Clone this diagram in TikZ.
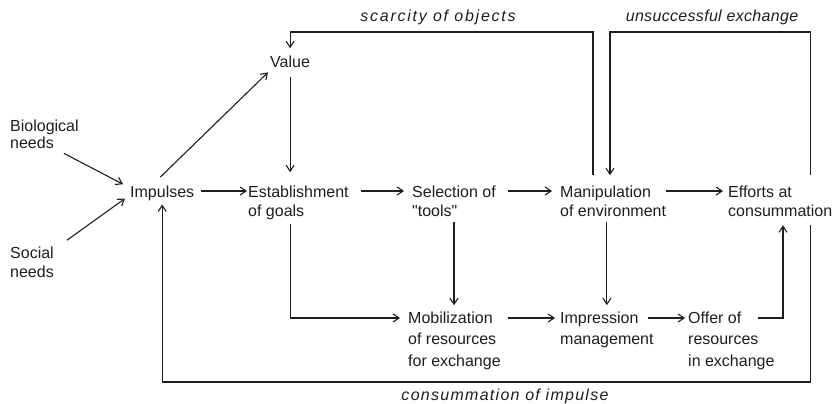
\documentclass[tikz,border=0pt]{standalone}
\usepackage{fontspec}
\setmainfont{Liberation Sans}[Ligatures=TeXOff]
\usetikzlibrary{arrows.meta,calc}
\definecolor{ink}{HTML}{1E1E1E}
\begin{document}
\begin{tikzpicture}[x=1pt,y=-1pt,
  txt/.style={inner sep=0pt, anchor=base west, align=left, text=ink,
    font=\fontsize{16}{19}\selectfont},
  txtb/.style={txt, font=\fontsize{16}{21.5}\selectfont},
  lbl/.style={inner sep=0pt, text=ink, font=\fontsize{16}{19}\selectfont\itshape},
  arr/.style={draw=ink, line width=1.1pt, -{Straight Barb[length=6pt,width=8pt,line width=1.1pt]}}]
\useasboundingbox[fill=white] (0,0) rectangle (835,404);
% nodes (anchored at the baseline of their last line)
\node[txt, font=\fontsize{16}{17}\selectfont] (bio) at (10,148) {Biological\\needs};
\node[txt] (soc) at (10,277) {Social\\needs};
\node[txt] (value) at (270,67) {Value};
\node[txt] (imp) at (130,197) {Impulses};
\node[txt] (est) at (248,216) {Establishment\\of goals};
\node[txt] (sel) at (412,216) {Selection of\\"tools"};
\node[txt] (manip) at (560,216) {Manipulation\\of environment};
\node[txt] (eff) at (728,216) {Efforts at\\consummation};
\node[txtb] (mob) at (408,366) {Mobilization\\of resources\\for exchange};
\node[txtb] (imprn) at (560,344.5) {Impression\\management};
\node[txtb] (offer) at (688,366) {Offer of\\resources\\in exchange};
\node[lbl] (lscar) at (438,17) {\addfontfeatures{LetterSpace=11}scarcity of objects};
\node[lbl] (lunsu) at (712,17) {\addfontfeatures{LetterSpace=2}unsuccessful exchange};
\node[lbl] (lcons) at (505,396) {\addfontfeatures{LetterSpace=8}consummation of impulse};
\coordinate (topline) at (0,32);
\coordinate (botline) at (0,382);
\coordinate (r1) at (0,191);
\coordinate (r2) at (0,318);
% connectors
\draw[arr] ($(bio.south east)+(-15,5)$) -- ($(imp.north west)+(-7,-1)$);
\draw[arr] ($(soc.north east)+(13,-6)$) -- ($(imp.south west)+(-5,-2)$);
\draw[arr] ($(imp.north)+(-2,-8)$) -- ($(value.south west)+(-2,5)$);
\draw[arr, shorten <=7pt, shorten >=1pt] (imp.east |- r1) -- (est.west |- r1);
\draw[arr, shorten <=12pt, shorten >=8pt] (est.east |- r1) -- (sel.west |- r1);
\draw[arr, shorten <=12pt, shorten >=8pt] (sel.east |- r1) -- (manip.west |- r1);
\draw[arr, shorten >=5pt] (manip.east |- r1) -- (eff.west |- r1);
\draw[arr, shorten <=10pt, shorten >=13pt] (value.south) -- (value.south |- est.north);
\draw[arr, shorten <=4pt, shorten >=8pt] (value.south |- est.south) |- (mob.west |- r2);
\draw[arr, shorten <=6pt, shorten >=6pt] (sel.south) -- (sel.south |- mob.north);
\draw[arr, shorten <=6pt, shorten >=6pt] (imprn.north |- manip.south) -- (imprn.north);
\draw[arr, shorten <=7pt, shorten >=5pt] (mob.east |- r2) -- (imprn.west |- r2);
\draw[arr, shorten >=3pt] ($(imprn.west |- r2)+(88,0)$) -- (offer.west |- r2);
\draw[arr] ($(offer.west |- r2)+(70,0)$) -| ($(eff.south west)+(55,9)$);
\draw[arr] ($(manip.north west)+(33,-10)$) |- (topline -| value.north) -- ($(value.north)+(0,-7)$);
\draw[arr] ($(eff.north east)+(-22,-10)$) |- ($(topline -| manip.north west)+(50,0)$) -- ($(manip.north west)+(50,-10)$);
\draw[arr] ($(eff.south east)+(-22,9)$) |- (botline -| imp.south) -- ($(imp.south)+(0,4)$);
\end{tikzpicture}
\end{document}
